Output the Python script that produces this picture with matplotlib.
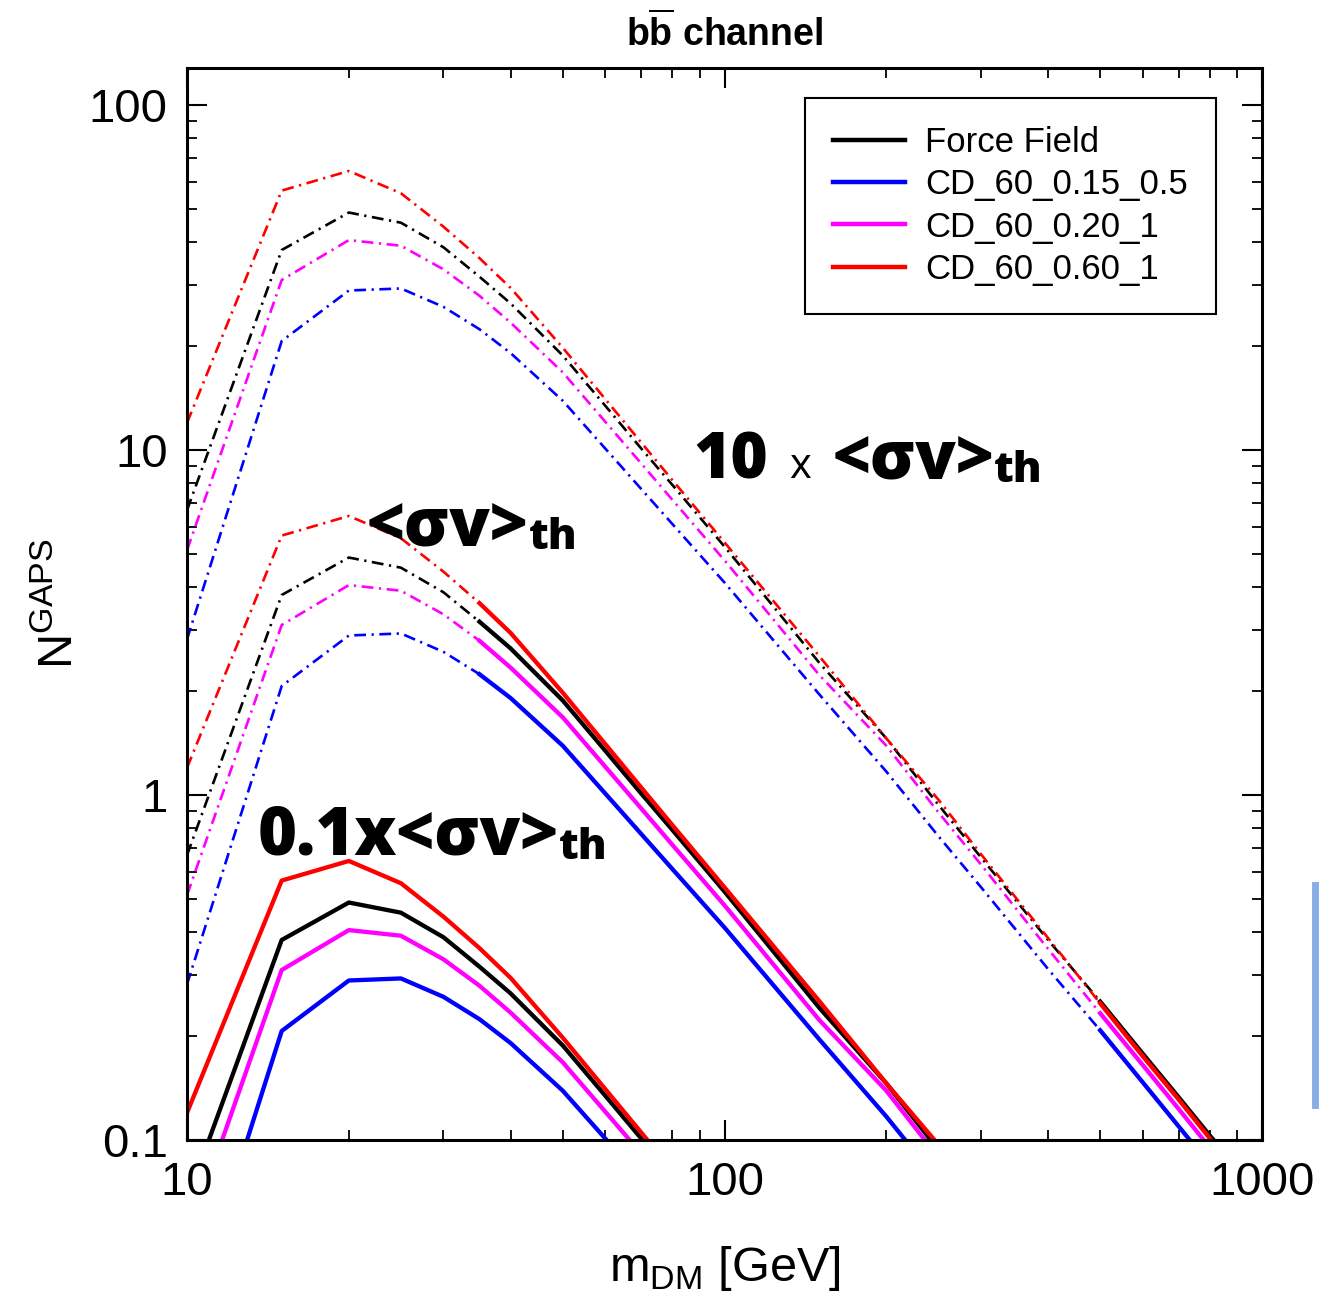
import matplotlib.pyplot as plt
import numpy as np
from matplotlib.lines import Line2D

plt.rcParams['font.family'] = ['Liberation Sans', 'DejaVu Sans']
plt.rcParams['mathtext.fontset'] = 'custom'
plt.rcParams['mathtext.rm'] = 'Liberation Sans'
plt.rcParams['mathtext.bf'] = 'Liberation Sans:bold'
plt.rcParams['lines.scale_dashes'] = False

# dark matter mass grid (GeV)
mass = np.array([10, 15, 20, 25, 30, 35, 40, 50, 60, 70, 80, 100, 150,
                 200, 250, 300, 400, 500, 600, 700, 800, 1000])

# N^GAPS at <sigma v>_th for each propagation model
n_force_field = [0.67, 3.80, 4.88, 4.56, 3.87, 3.18, 2.66, 1.88, 1.344, 1.01, 0.792, 0.525, 0.242,
                 0.146, 0.0937, 0.066, 0.038, 0.0252, 0.0178, 0.0133, 0.0103, 0.0068]
n_cd_015 = [0.283, 2.07, 2.90, 2.94, 2.60, 2.24, 1.91, 1.39, 1.01, 0.771, 0.61, 0.413, 0.196,
            0.117, 0.076, 0.0541, 0.0313, 0.0208, 0.0147, 0.01095, 0.00848, 0.0055]
n_cd_020 = [0.513, 3.11, 4.06, 3.91, 3.34, 2.80, 2.34, 1.68, 1.208, 0.914, 0.717, 0.479, 0.223,
            0.139, 0.0891, 0.0629, 0.0358, 0.0233, 0.0165, 0.0123, 0.0095, 0.0062]
n_cd_060 = [1.20, 5.65, 6.44, 5.55, 4.44, 3.60, 2.95, 1.98, 1.405, 1.051, 0.818, 0.54, 0.253,
            0.146, 0.097, 0.0674, 0.0385, 0.0249, 0.0175, 0.0131, 0.0101, 0.0066]

labels = ['Force Field', 'CD_60_0.15_0.5', 'CD_60_0.20_1', 'CD_60_0.60_1']
colors = ['black', '#0000ff', '#ff00ff', '#ff0000']
models = [n_force_field, n_cd_015, n_cd_020, n_cd_060]

# cross-section scale factor and mass below which curve is dash-dotted
scales = [0.1, 1.0, 10.0]
solid_from = [None, 35, 500]

fig = plt.figure(figsize=(13.21, 12.94), dpi=100)
ax = fig.add_axes([0.1416, 0.119, 0.8137, 0.8284])

dashdot = (0, (8.5, 4, 1.6, 4))
for scale, split in zip(scales, solid_from):
    for y, c in zip(models, colors):
        y = np.array(y) * scale
        if split is None:
            ax.plot(mass, y, color=c, lw=3.1)
        else:
            lo = mass <= split
            hi = mass >= split
            ax.plot(mass[lo], y[lo], color=c, lw=1.9, linestyle=dashdot)
            ax.plot(mass[hi], y[hi], color=c, lw=3.1)

ax.set_xscale('log')
ax.set_yscale('log')
ax.set_xlim(10, 1000)
ax.set_ylim(0.1, 128)
ax.set_xticks([10, 100, 1000], ['10', '100', '1000'])
ax.set_yticks([0.1, 1, 10, 100], ['0.1', '1', '10', '100'])
ax.tick_params(which='both', direction='in', top=True, right=True, labelsize=34)
ax.tick_params(which='major', length=14.4, width=1.5)
ax.tick_params(which='minor', length=7.5, width=1.3)
ax.tick_params(axis='x', pad=15)
ax.tick_params(axis='y', pad=14)
ax.minorticks_on()
ax.tick_params(which='minor', labelbottom=False, labelleft=False)
for s in ax.spines.values():
    s.set_linewidth(2.2)

ax.set_xlabel(r'm$_{\mathrm{DM}}$ [GeV]', fontsize=35, labelpad=28)
ax.set_ylabel(r'N$^{\mathrm{GAPS}}$', fontsize=35, labelpad=4)
ax.set_title(r'$\mathbf{b\overline{b}}$ channel', fontsize=27, fontweight='bold', pad=16)

handles = [Line2D([], [], color=c, lw=3.2) for c in colors]
leg = ax.legend(handles, labels, loc='upper right', bbox_to_anchor=(0.957, 0.972),
                fontsize=25, handlelength=2.07, handletextpad=0.58, labelspacing=0.27,
                borderpad=0.8, borderaxespad=0, fancybox=False, framealpha=1)
leg.get_frame().set_edgecolor('black')
leg.get_frame().set_linewidth(1.5)

# annotations: pieces placed one after another on a common baseline
ann_font = ['Open Sans', 'DejaVu Sans']
fig.canvas.draw()
rend = fig.canvas.get_renderer()


def run_text(x, y, parts):
    for s, size, weight, dy, gap in parts:
        t = ax.text(x + gap, y + dy, s, transform=ax.transAxes, fontsize=size,
                    fontweight=weight, family=ann_font, ha='left', va='baseline')
        bb = t.get_window_extent(renderer=rend)
        x = ax.transAxes.inverted().transform((bb.x1, bb.y0))[0]


run_text(0.4707, 0.6175, [('10', 46, 'heavy', 0, 0),
                          ('x', 30, 'normal', 0, 0.02),
                          ('<σv>', 48, 'heavy', 0, 0.02),
                          ('th', 31, 'heavy', -0.004, 0)])
run_text(0.1674, 0.555, [('<σv>', 48, 'heavy', 0, 0),
                         ('th', 31, 'heavy', -0.004, 0)])
run_text(0.066, 0.2659, [('0.1x<σv>', 48, 'heavy', 0, 0),
                         ('th', 31, 'heavy', -0.004, 0)])

# scan artifact at right edge of the original figure
fig.add_artist(Line2D([0.9955, 0.9955], [0.146, 0.316], color='#3a78d8', lw=5, alpha=0.6))

fig.savefig('out.png', dpi=100)
